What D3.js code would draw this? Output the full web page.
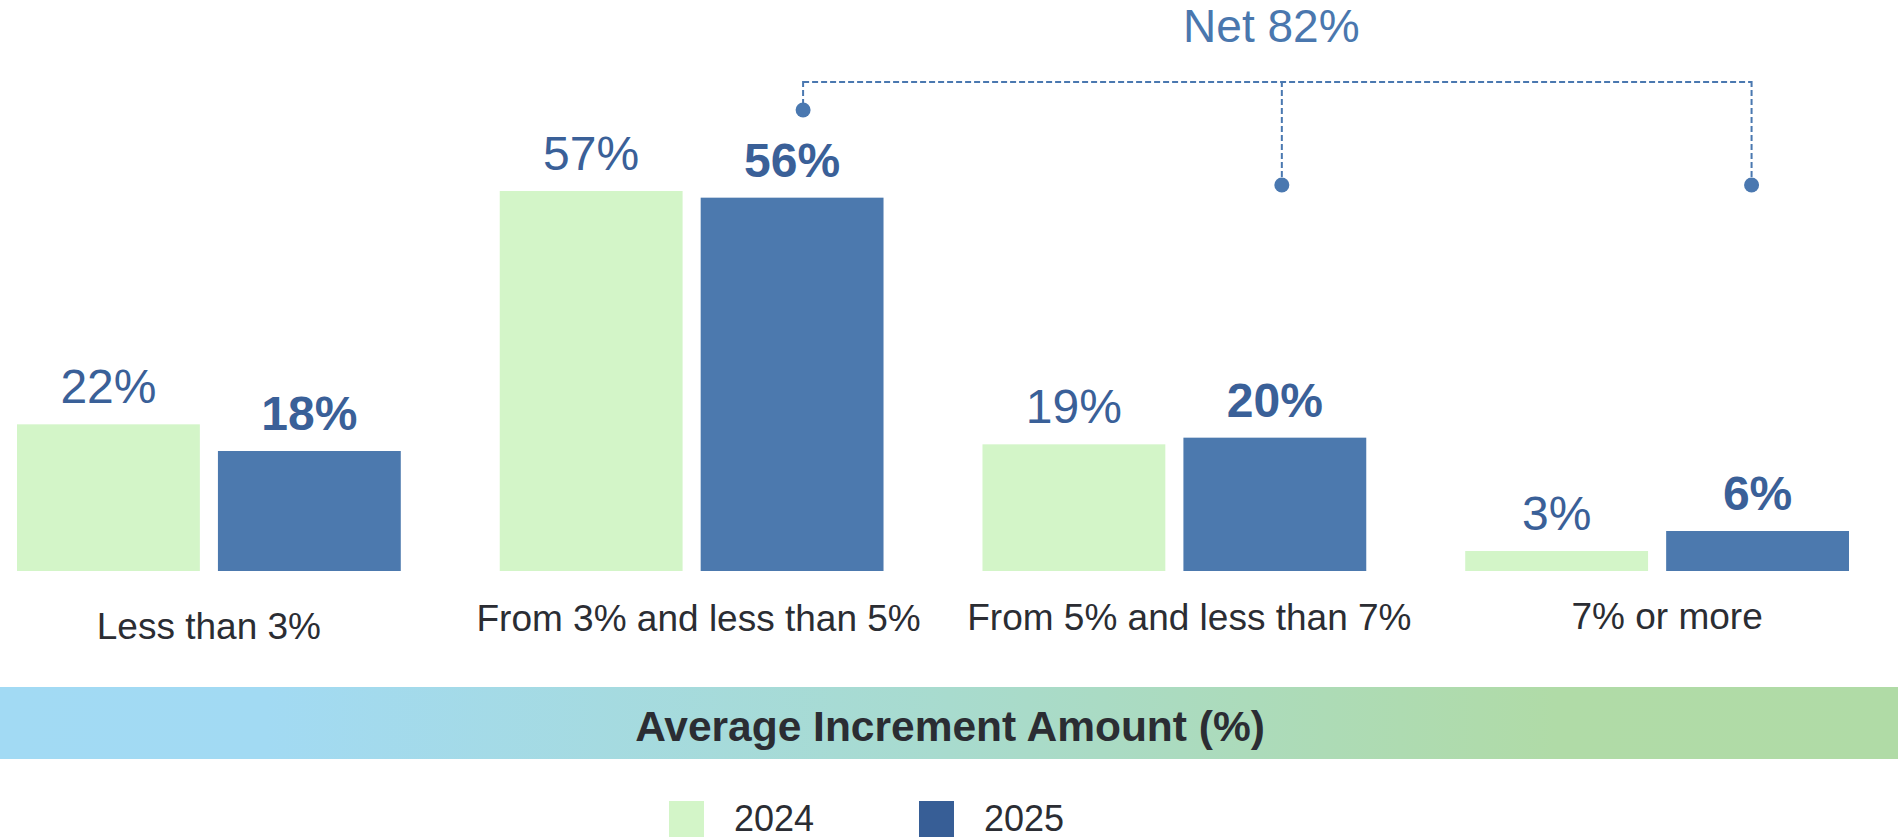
<!DOCTYPE html>
<html lang="en">
<head>
<meta charset="UTF-8">
<title>Average Increment Amount</title>
<style>
  body { margin: 0; background: #fff; }
  svg text { font-family: "Liberation Sans", Arial, sans-serif; }
</style>
</head>
<body>
<svg id="chart" width="1898" height="839"></svg>
<script src="https://cdn.jsdelivr.net/npm/d3@7"></script>
<script>

    // data
    var categories = ["Less than 3%", "From 3% and less than 5%", "From 5% and less than 7%", "7% or more"];
    var years = ["2024", "2025"];
    var values2024 = [22, 57, 19, 3];
    var values2025 = [18, 56, 20, 6];
    var netCategories = ["From 3% and less than 5%", "From 5% and less than 7%", "7% or more"];
    var netText = "Net 82%";
    var axisTitle = "Average Increment Amount (%)";

    // small nudges for the category labels, as they sit in the original
    var labelDx = [0, 7, 15, 10];
    var labelY = [639, 631, 630, 629];
    // where the bracket ends sit relative to the 2025 bars
    var netDx = [11, 7, -6];
    var netDotY = [110, 185, 185];

    var svg = d3.select("#chart"),
        width = +svg.attr("width"),
        height = +svg.attr("height");

    var rows = categories.map(function (c, i) {
        return { cat: c, vals: [{ year: "2024", v: values2024[i] }, { year: "2025", v: values2025[i] }] };
    });

    var x0 = d3.scaleBand().domain(categories).range([17, 1849]).paddingInner(0.205).paddingOuter(0),
        x1 = d3.scaleBand().domain(years).range([0, x0.bandwidth()]).paddingInner(0.09),
        y = d3.scaleLinear().domain([0, 60]).range([571, 171]),
        fill = d3.scaleOrdinal().domain(years).range(["#d3f5c8", "#4c79ae"]),
        swatch = d3.scaleOrdinal().domain(years).range(["#d3f5c8", "#375e96"]);

    // bars + value labels
    var groups = svg.append("g").selectAll("g")
        .data(rows)
        .enter().append("g")
        .attr("transform", function (d) { return "translate(" + x0(d.cat) + ",0)"; });

    groups.selectAll("rect")
        .data(function (d) { return d.vals; })
        .enter().append("rect")
        .attr("x", function (d) { return x1(d.year); })
        .attr("y", function (d) { return y(d.v); })
        .attr("width", x1.bandwidth())
        .attr("height", function (d) { return y(0) - y(d.v); })
        .attr("fill", function (d) { return fill(d.year); });

    groups.selectAll("text.val")
        .data(function (d) { return d.vals; })
        .enter().append("text")
        .attr("class", "val")
        .attr("x", function (d) { return x1(d.year) + x1.bandwidth() / 2; })
        .attr("y", function (d) { return y(d.v) - 21; })
        .attr("text-anchor", "middle")
        .attr("font-size", 48)
        .attr("font-weight", function (d) { return d.year === "2025" ? "bold" : "normal"; })
        .attr("fill", "#3a6098")
        .text(function (d) { return d.v + "%"; });

    // category labels
    svg.append("g").selectAll("text")
        .data(categories)
        .enter().append("text")
        .attr("x", function (d, i) { return x0(d) + x0.bandwidth() / 2 + labelDx[i]; })
        .attr("y", function (d, i) { return labelY[i]; })
        .attr("text-anchor", "middle")
        .attr("font-size", 37)
        .attr("fill", "#2b2d33")
        .text(function (d) { return d; });

    // net bracket
    var lineY = 82;
    var ends = netCategories.map(function (c, i) {
        return { x: x0(c) + x1("2025") + x1.bandwidth() / 2 + netDx[i], y: netDotY[i] };
    });
    var net = svg.append("g").attr("stroke", "#4a78b0").attr("fill", "#4a78b0");

    net.append("line")
        .attr("x1", ends[0].x).attr("x2", ends[ends.length - 1].x)
        .attr("y1", lineY).attr("y2", lineY)
        .attr("stroke-width", 2)
        .attr("stroke-dasharray", "6,3");

    net.selectAll("line.drop")
        .data(ends)
        .enter().append("line")
        .attr("class", "drop")
        .attr("x1", function (d) { return d.x; }).attr("x2", function (d) { return d.x; })
        .attr("y1", lineY - 1).attr("y2", function (d) { return d.y; })
        .attr("stroke-width", 2)
        .attr("stroke-dasharray", "6,3");

    net.selectAll("circle")
        .data(ends)
        .enter().append("circle")
        .attr("cx", function (d) { return d.x; })
        .attr("cy", function (d) { return d.y; })
        .attr("r", 7.5)
        .attr("stroke", "none");

    svg.append("text")
        .attr("x", (ends[0].x + ends[ends.length - 1].x) / 2 - 6)
        .attr("y", 42)
        .attr("text-anchor", "middle")
        .attr("font-size", 46)
        .attr("fill", "#4a77ae")
        .text(netText);

    // gradient axis-title band
    var grad = svg.append("defs").append("linearGradient")
        .attr("id", "band").attr("x1", "0%").attr("x2", "100%");
    [[0, "#a2daf4"], [0.14, "#a2daf3"], [0.5, "#a8dbce"], [0.82, "#b0dba7"], [1, "#b0dba6"]].forEach(function (s) {
        grad.append("stop").attr("offset", s[0]).attr("stop-color", s[1]);
    });

    svg.append("rect")
        .attr("x", 0).attr("y", 687)
        .attr("width", width).attr("height", 72)
        .attr("fill", "url(#band)");

    svg.append("text")
        .attr("x", 950).attr("y", 741)
        .attr("text-anchor", "middle")
        .attr("font-size", 42.5)
        .attr("font-weight", "bold")
        .attr("fill", "#2b2d33")
        .text(axisTitle);

    // legend
    var legend = svg.append("g").selectAll("g")
        .data(years)
        .enter().append("g")
        .attr("transform", function (d, i) { return "translate(" + (669 + i * 250) + ",801)"; });

    legend.append("rect")
        .attr("width", 35).attr("height", 36)
        .attr("fill", function (d) { return swatch(d); });

    legend.append("text")
        .attr("x", 65).attr("y", 30)
        .attr("font-size", 36)
        .attr("fill", "#2b2d33")
        .text(function (d) { return d; });

</script>
</body>
</html>
